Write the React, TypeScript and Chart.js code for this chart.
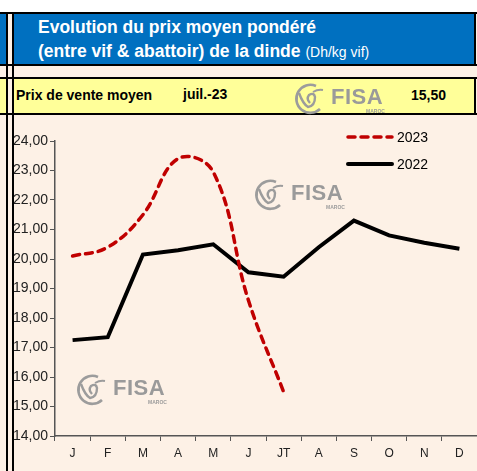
import React, { useEffect, useRef } from 'react';
import { Chart, registerables } from 'chart.js';

Chart.register(...registerables);

const months = ['J', 'F', 'M', 'A', 'M', 'J', 'JT', 'A', 'S', 'O', 'N', 'D'];
const series2023 = [20.1, 20.4, 21.5, 23.4, 22.95, 18.6, 15.5, null, null, null, null, null];
const series2022 = [17.25, 17.35, 20.15, 20.3, 20.5, 19.55, 19.4, 20.4, 21.3, 20.8, 20.55, 20.35];
const seriesNames = ['2023', '2022'];
const yMin = 14;
const yMax = 24;
const yStep = 1;

const FONT = '"Liberation Sans", Arial, Helvetica, sans-serif';
const BLUE = '#0070C0';
const BEIGE = '#FDF1E6';
const YELLOW = '#FFFF99';
const RED = '#C00000';
const DASH = [7, 6];

const legendPlugin = {
  id: 'customLegend',
  afterDraw(chart: any) {
    const ctx = chart.ctx as CanvasRenderingContext2D;
    const items = [
      { label: seriesNames[0], color: RED, dash: DASH, width: 3.5, y: 22 },
      { label: seriesNames[1], color: '#000', dash: [], width: 4, y: 49 },
    ];
    ctx.save();
    items.forEach((it) => {
      ctx.beginPath();
      ctx.setLineDash(it.dash);
      ctx.lineCap = 'round';
      ctx.lineWidth = it.width;
      ctx.strokeStyle = it.color;
      ctx.moveTo(334, it.y);
      ctx.lineTo(378, it.y);
      ctx.stroke();
      ctx.setLineDash([]);
      ctx.fillStyle = '#000';
      ctx.font = `14px ${FONT}`;
      ctx.textBaseline = 'middle';
      ctx.textAlign = 'left';
      ctx.fillText(it.label, 383, it.y + 1);
    });
    ctx.restore();
  },
};

function Logo({ x, y }: { x: number; y: number }) {
  return (
    <div style={{ position: 'absolute', left: x, top: y, width: 100, height: 34, pointerEvents: 'none' }}>
      <svg width="34" height="34" viewBox="0 0 34 34" style={{ position: 'absolute', left: 0, top: 0 }}>
        <path d="M 24 4 A 14 14 0 1 0 28 27" fill="none" stroke="#9c9c9c" strokeWidth="2.6" />
        <path d="M 7 11 Q 11 22 16 25 Q 23 24 23 15 Q 22 10 17 13 Q 14 17 18 21" fill="none" stroke="#9c9c9c" strokeWidth="2.4" />
        <path d="M 21 10 Q 26 7 31 8" fill="none" stroke="#9c9c9c" strokeWidth="2" />
      </svg>
      <div style={{ position: 'absolute', left: 39, top: 4, font: `bold 22px ${FONT}`, color: '#9a9a9a', letterSpacing: 0.5, lineHeight: '22px' }}>FISA</div>
      <div style={{ position: 'absolute', left: 74, top: 27, font: `bold 5px ${FONT}`, color: '#9c9c9c', lineHeight: '5px' }}>MAROC</div>
    </div>
  );
}

export default function App() {
  const canvasRef = useRef<HTMLCanvasElement>(null);

  useEffect(() => {
    const prevMargin = document.body.style.margin;
    document.body.style.margin = '0';
    const canvas = canvasRef.current;
    if (!canvas) return;
    const chart = new Chart(canvas, {
      type: 'line',
      data: {
        labels: months,
        datasets: [
          {
            label: seriesNames[0],
            data: series2023,
            borderColor: RED,
            borderWidth: 3.5,
            borderDash: DASH,
            borderCapStyle: 'round',
            tension: 0.4,
            pointRadius: 0,
            fill: false,
            spanGaps: false,
          },
          {
            label: seriesNames[1],
            data: series2022,
            borderColor: '#000000',
            borderWidth: 4,
            tension: 0,
            pointRadius: 0,
            fill: false,
          },
        ],
      },
      options: {
        animation: false,
        responsive: true,
        maintainAspectRatio: false,
        layout: { padding: { top: 26, right: 0, left: 0, bottom: 0 } },
        plugins: {
          legend: { display: false },
          tooltip: { enabled: false },
          title: { display: false },
        },
        scales: {
          x: {
            offset: true,
            grid: { display: true, drawOnChartArea: false, drawTicks: true, tickLength: 5, offset: true, color: '#555' },
            border: { display: true, color: '#555', width: 1.5 },
            ticks: { color: '#222', font: { family: FONT, size: 12 }, padding: 5, autoSkip: false, maxRotation: 0 },
            afterFit: (s: any) => { s.height = 35; },
          },
          y: {
            min: yMin,
            max: yMax,
            grid: { display: true, drawOnChartArea: false, drawTicks: true, tickLength: 5, color: '#555' },
            border: { display: true, color: '#555', width: 1.5 },
            ticks: {
              stepSize: yStep,
              color: '#222',
              font: { family: FONT, size: 14 },
              padding: 2,
              callback: (v: any) => Number(v).toFixed(2).replace('.', ','),
            },
            afterFit: (s: any) => { s.width = 41; },
          },
        },
      },
      plugins: [legendPlugin],
    });
    return () => {
      chart.destroy();
      document.body.style.margin = prevMargin;
    };
  }, []);

  const hLine = (top: number, left = 0, width = 477) => (
    <div style={{ position: 'absolute', left, top, width, height: 2, background: '#000' }} />
  );

  return (
    <div style={{ position: 'absolute', left: 0, top: 0, width: 477, height: 471, background: '#fff', overflow: 'hidden', fontFamily: FONT }}>
      <div style={{ position: 'absolute', left: 0, top: 13, width: 477, height: 458, background: BEIGE }} />
      <div style={{ position: 'absolute', left: 0, top: 13, width: 7, height: 52, background: BLUE }} />
      <div style={{ position: 'absolute', left: 14, top: 13, width: 461, height: 52, background: BLUE }} />
      <div style={{ position: 'absolute', left: 0, top: 78, width: 7, height: 36, background: YELLOW }} />
      <div style={{ position: 'absolute', left: 14, top: 78, width: 461, height: 36, background: YELLOW }} />
      {hLine(12)}
      {hLine(64)}
      {hLine(77)}
      {hLine(113)}
      <div style={{ position: 'absolute', left: 6, top: 12, width: 2, height: 459, background: '#000' }} />
      <div style={{ position: 'absolute', left: 12, top: 12, width: 2, height: 459, background: '#000' }} />
      <div style={{ position: 'absolute', left: 474, top: 12, width: 2, height: 54, background: '#000' }} />
      <div style={{ position: 'absolute', left: 474, top: 77, width: 2, height: 38, background: '#000' }} />

      <div style={{ position: 'absolute', left: 38, top: 15, color: '#fff', font: `bold 17.5px ${FONT}`, lineHeight: '24px', whiteSpace: 'nowrap' }}>
        <div>Evolution du prix moyen pondéré</div>
        <div>
          (entre vif &amp; abattoir) de la dinde <span style={{ fontWeight: 'normal', fontSize: 14 }}>(Dh/kg vif)</span>
        </div>
      </div>

      <div style={{ position: 'absolute', left: 16, top: 87, font: `bold 14px ${FONT}`, color: '#000', whiteSpace: 'nowrap' }}>Prix de vente moyen</div>
      <div style={{ position: 'absolute', left: 183, top: 86, font: `bold 14px ${FONT}`, color: '#000', whiteSpace: 'nowrap' }}>juil.-23</div>
      <div style={{ position: 'absolute', left: 411, top: 87, font: `bold 14px ${FONT}`, color: '#000', whiteSpace: 'nowrap' }}>15,50</div>

      <div style={{ position: 'absolute', left: 14, top: 115, width: 463, height: 356 }}>
        <canvas ref={canvasRef} />
      </div>

      <Logo x={292} y={82} />
      <Logo x={252} y={178} />
      <Logo x={74} y={373} />
    </div>
  );
}
